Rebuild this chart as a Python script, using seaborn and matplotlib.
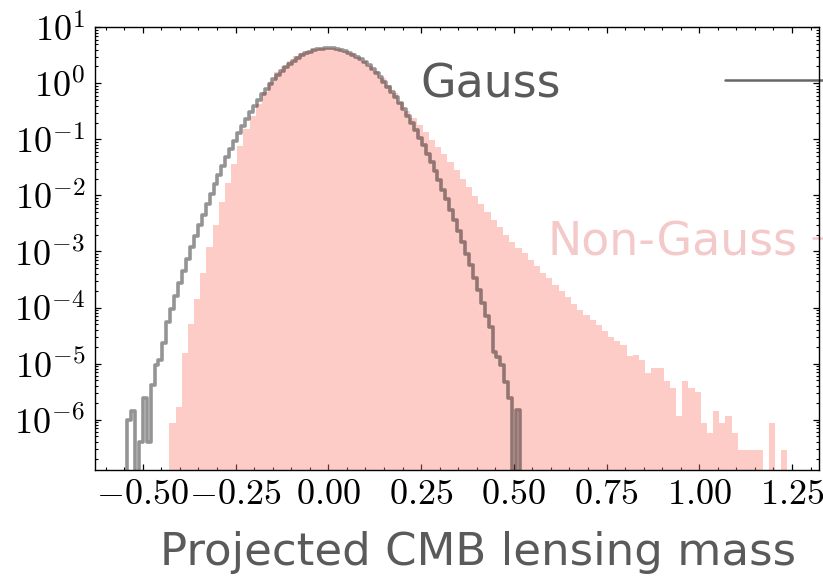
import numpy as np
import pandas as pd
import matplotlib
matplotlib.use("Agg")
import matplotlib.pyplot as plt
import seaborn as sns
from matplotlib.ticker import FuncFormatter, MultipleLocator, LogLocator, NullFormatter

# ---------------- data ----------------
n_bins = 100
gauss_range = (-0.5426, 0.5167)
nongauss_range = (-0.4286, 1.2372)

gauss_density = [
    1.0e-6, 1.4e-6, 0.0, 4.0e-7, 2.4e-6, 4.0e-7, 4.2e-6, 9.5e-6, 1.16e-5, 2.34e-5,
    5.4e-5, 9.4e-5, 1.6e-4, 2.69e-4, 4.47e-4, 7.31e-4, 1.18e-3, 1.88e-3, 2.96e-3, 4.56e-3,
    6.97e-3, 1.05e-2, 1.57e-2, 2.30e-2, 3.33e-2, 4.75e-2, 6.70e-2, 9.31e-2, 0.128, 0.172,
    0.230, 0.303, 0.394, 0.504, 0.637, 0.794, 0.977, 1.19, 1.42, 1.67,
    1.95, 2.24, 2.54, 2.84, 3.14, 3.41, 3.66, 3.88, 4.06, 4.18,
    4.25, 4.27, 4.22, 4.12, 3.97, 3.77, 3.53, 3.27, 2.98, 2.68,
    2.38, 2.09, 1.80, 1.54, 1.29, 1.07, 0.876, 0.707, 0.563, 0.443,
    0.343, 0.262, 0.198, 0.147, 0.108, 0.0781, 0.0558, 0.0393, 0.0273, 0.0188,
    0.0127, 8.49e-3, 5.58e-3, 3.62e-3, 2.32e-3, 1.47e-3, 9.14e-4, 5.62e-4, 3.41e-4, 2.05e-4,
    1.21e-4, 7.05e-5, 4.5e-5, 1.6e-5, 1.3e-5, 9.5e-6, 4.6e-6, 2.4e-6, 0.0, 1.5e-6,
]

nongauss_density = [
    8.6e-7, 1.7e-6, 1.55e-5, 5.1e-5, 1.44e-4, 4.2e-4, 1.22e-3, 3.0e-3, 7.5e-3, 1.64e-2,
    3.6e-2, 7.5e-2, 0.152, 0.259, 0.425, 0.70, 1.05, 1.58, 2.03, 2.49,
    3.06, 3.5, 3.85, 4.1, 4.25, 4.3, 4.25, 4.08, 3.8, 3.42,
    2.98, 2.52, 2.06, 1.64, 1.27, 0.95, 0.68, 0.47, 0.32, 0.238,
    0.179, 0.134, 0.0964, 0.0723, 0.0541, 0.0389, 0.0280, 0.0193, 0.0139, 9.6e-3,
    6.9e-3, 4.97e-3, 3.57e-3, 2.68e-3, 2.0e-3, 1.5e-3, 1.17e-3, 9.2e-4, 6.9e-4, 5.4e-4,
    4.2e-4, 3.3e-4, 2.56e-4, 2.0e-4, 1.56e-4, 1.17e-4, 9.1e-5, 7.4e-5, 6.0e-5, 4.9e-5,
    3.85e-5, 3.0e-5, 2.55e-5, 2.16e-5, 1.37e-5, 1.43e-5, 1.16e-5, 6.8e-6, 8.4e-6, 8.4e-6,
    4.9e-6, 3.7e-6, 1.14e-6, 4.9e-6, 3.7e-6, 3.1e-6, 8.6e-7, 5.7e-7, 1.43e-6, 8.6e-7,
    1.14e-6, 5.7e-7, 2.86e-7, 2.86e-7, 2.86e-7, 2.86e-7, 0.0, 8.6e-7, 0.0, 2.86e-7,
]

label_gauss = "Gauss"
label_nongauss = "Non-Gauss"
x_label = "Projected CMB lensing mass"


def hist_table(rng, dens, pad):
    edges = np.linspace(rng[0], rng[1], n_bins + 1)
    w = edges[1] - edges[0]
    centers = 0.5 * (edges[:-1] + edges[1:])
    d = np.asarray(dens, dtype=float)
    if pad:  # empty bin each side so the outline drops to the baseline
        edges = np.concatenate([[edges[0] - w], edges, [edges[-1] + w]])
        centers = np.concatenate([[centers[0] - w], centers, [centers[-1] + w]])
        d = np.concatenate([[0.0], d, [0.0]])
    return pd.DataFrame({"x": centers, "w": d}), edges.tolist()


# ---------------- style ----------------
sns.set_theme(style="ticks")
plt.rcParams["font.family"] = ["DejaVu Sans"]
plt.rcParams["mathtext.fontset"] = "cm"

fig = plt.figure(figsize=(8.23, 5.78), dpi=100)
W, H = 823, 578
ax = fig.add_axes([95 / W, 1 - 470 / H, (819.3 - 95) / W, (470 - 27.3) / H])
ax.set_yscale("log")

df_ng, edges_ng = hist_table(nongauss_range, nongauss_density, pad=False)
df_g, edges_g = hist_table(gauss_range, gauss_density, pad=True)

sns.histplot(data=df_ng, x="x", weights="w", bins=edges_ng, element="step",
             fill=True, color="salmon", alpha=0.4, linewidth=0, ax=ax)
sns.histplot(data=df_g, x="x", weights="w", bins=edges_g, element="step",
             fill=False, color="black", alpha=0.42, linewidth=2.6, ax=ax)

ax.set_xlim(-0.629, 1.3235)
ax.set_ylim(1.26e-7, 10.0)
ax.set_xlabel("")
ax.set_ylabel("")

ax.xaxis.set_major_locator(MultipleLocator(0.25))
ax.xaxis.set_minor_locator(MultipleLocator(0.05))
ax.yaxis.set_major_locator(LogLocator(base=10, numticks=20))
ax.yaxis.set_minor_locator(LogLocator(base=10, subs=np.arange(2, 10), numticks=20))
ax.yaxis.set_minor_formatter(NullFormatter())


def fmt_x(v, pos):
    if abs(v) < 1e-9:
        v = 0.0
    return f"${v:.2f}$"


def fmt_y(v, pos):
    return f"$10^{{{int(round(np.log10(v)))}}}$"


ax.xaxis.set_major_formatter(FuncFormatter(fmt_x))
ax.yaxis.set_major_formatter(FuncFormatter(fmt_y))

ax.tick_params(which="both", direction="in", top=True, right=True,
               colors="black", labelsize=26)
ax.tick_params(which="major", length=4.3, width=0.9)
ax.tick_params(which="minor", length=2.2, width=0.8)
ax.tick_params(axis="x", pad=5)
ax.tick_params(axis="y", pad=7)
for s in ax.spines.values():
    s.set_linewidth(1.0)
    s.set_color("black")

# labels
ax.text((420 - 95) / 724.3, (470 - 98) / 442.7, label_gauss, transform=ax.transAxes,
        fontsize=33, color="#5a5a5a", ha="left", va="baseline")
ax.text((548 - 95) / 724.3, (470 - 255) / 442.7, label_nongauss, transform=ax.transAxes,
        fontsize=33, color="#f4c9c9", ha="left", va="baseline")
ax.plot([(725 - 95) / 724.3, 1.05], [(470 - 80) / 442.7] * 2, transform=ax.transAxes,
        color="#666666", lw=1.8, clip_on=False)
ax.plot([(813 - 95) / 724.3, 1.05], [(470 - 238) / 442.7] * 2, transform=ax.transAxes,
        color="#f4c9c9", lw=1.8, clip_on=False)

fig.text(478 / W, 1 - 565 / H, x_label, ha="center", va="baseline",
         fontsize=32.5, color="#5a5a5a")

fig.savefig("out.png", dpi=100)
